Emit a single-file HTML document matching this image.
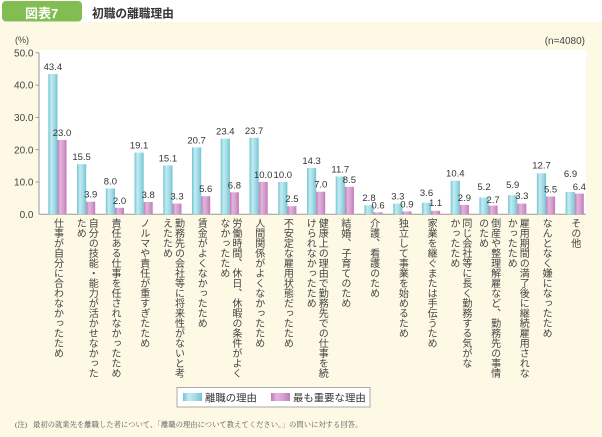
<!DOCTYPE html>
<html><head><meta charset="utf-8">
<style>
html,body{margin:0;padding:0;}
body{width:602px;height:437px;position:relative;overflow:hidden;background:#fff;font-family:"Liberation Sans","Noto Sans CJK JP",sans-serif;}
svg{position:absolute;left:0;top:0;}
.cl{position:absolute;top:218px;writing-mode:vertical-rl;font-size:10px;line-height:12px;color:#444;white-space:nowrap;font-family:"Liberation Sans","Noto Sans CJK JP",sans-serif;}
</style></head><body>
<svg width="602" height="437" viewBox="0 0 602 437" xmlns="http://www.w3.org/2000/svg">
<defs>
<linearGradient id="gb" x1="0" y1="0" x2="1" y2="0">
<stop offset="0" stop-color="#72c3d2"/><stop offset="0.3" stop-color="#c3ebf1"/><stop offset="0.65" stop-color="#a3dce6"/><stop offset="1" stop-color="#74c4d3"/>
</linearGradient>
<linearGradient id="gp" x1="0" y1="0" x2="1" y2="0">
<stop offset="0" stop-color="#bf78b6"/><stop offset="0.3" stop-color="#e3b5dd"/><stop offset="0.65" stop-color="#d49fcd"/><stop offset="1" stop-color="#c07ab8"/>
</linearGradient>
</defs>
<rect x="0" y="22" width="602" height="415" fill="#fdf9e4"/>
<rect x="39" y="50" width="547" height="164.3" fill="#ffffff"/>
<rect x="2" y="1" width="80" height="20.5" rx="4" fill="#82bd52"/>
<text x="25" y="18" font-size="13" font-weight="bold" fill="#fff" font-family="Liberation Sans,Noto Sans CJK JP,sans-serif">図表7</text>
<text x="92" y="17.5" font-size="11.7" font-weight="bold" fill="#333" font-family="Liberation Sans,Noto Sans CJK JP,sans-serif">初職の離職理由</text>
<text x="15" y="43" font-size="9" fill="#444" font-family="Liberation Sans,sans-serif">(%)</text>
<text x="585" y="44" font-size="10" fill="#444" text-anchor="end" font-family="Liberation Sans,sans-serif">(n=4080)</text>
<g font-size="10" fill="#444" text-anchor="end" font-family="Liberation Sans,sans-serif">
<text x="33.5" y="56.4">50.0</text>
<text x="33.5" y="88.7">40.0</text>
<text x="33.5" y="121">30.0</text>
<text x="33.5" y="153.3">20.0</text>
<text x="33.5" y="185.6">10.0</text>
<text x="33.5" y="217.9">0.0</text>
</g>
<g stroke="#999" stroke-width="1">
<line x1="39" y1="52.8" x2="39" y2="214.3"/>
<line x1="39" y1="214.3" x2="586" y2="214.3"/>
<line x1="35.5" y1="52.8" x2="39" y2="52.8"/>
<line x1="35.5" y1="85.1" x2="39" y2="85.1"/>
<line x1="35.5" y1="117.4" x2="39" y2="117.4"/>
<line x1="35.5" y1="149.7" x2="39" y2="149.7"/>
<line x1="35.5" y1="182" x2="39" y2="182"/>
</g>
<g fill="url(#gb)">
<rect x="48.3" y="74.1" width="9.2" height="140.2"/>
<rect x="77.0" y="164.2" width="9.2" height="50.1"/>
<rect x="105.8" y="188.5" width="9.2" height="25.8"/>
<rect x="134.5" y="152.6" width="9.2" height="61.7"/>
<rect x="163.3" y="165.5" width="9.2" height="48.8"/>
<rect x="192.0" y="147.4" width="9.2" height="66.9"/>
<rect x="220.7" y="138.7" width="9.2" height="75.6"/>
<rect x="249.5" y="137.8" width="9.2" height="76.5"/>
<rect x="278.2" y="182.0" width="9.2" height="32.3"/>
<rect x="307.0" y="168.1" width="9.2" height="46.2"/>
<rect x="335.7" y="176.5" width="9.2" height="37.8"/>
<rect x="364.4" y="205.3" width="9.2" height="9.0"/>
<rect x="393.2" y="203.6" width="9.2" height="10.7"/>
<rect x="421.9" y="202.7" width="9.2" height="11.6"/>
<rect x="450.7" y="180.7" width="9.2" height="33.6"/>
<rect x="479.4" y="197.5" width="9.2" height="16.8"/>
<rect x="508.1" y="195.2" width="9.2" height="19.1"/>
<rect x="536.9" y="173.3" width="9.2" height="41.0"/>
<rect x="565.6" y="192.0" width="9.2" height="22.3"/>
</g>
<g fill="url(#gp)">
<rect x="57.5" y="140.0" width="9" height="74.3"/>
<rect x="86.2" y="201.7" width="9" height="12.6"/>
<rect x="115.0" y="207.8" width="9" height="6.5"/>
<rect x="143.7" y="202.0" width="9" height="12.3"/>
<rect x="172.5" y="203.6" width="9" height="10.7"/>
<rect x="201.2" y="196.2" width="9" height="18.1"/>
<rect x="229.9" y="192.3" width="9" height="22.0"/>
<rect x="258.7" y="182.0" width="9" height="32.3"/>
<rect x="287.4" y="206.2" width="9" height="8.1"/>
<rect x="316.2" y="191.7" width="9" height="22.6"/>
<rect x="344.9" y="186.8" width="9" height="27.5"/>
<rect x="373.6" y="212.4" width="9" height="1.9"/>
<rect x="402.4" y="211.4" width="9" height="2.9"/>
<rect x="431.1" y="210.8" width="9" height="3.5"/>
<rect x="459.9" y="204.9" width="9" height="9.4"/>
<rect x="488.6" y="205.6" width="9" height="8.7"/>
<rect x="517.3" y="203.6" width="9" height="10.7"/>
<rect x="546.1" y="196.5" width="9" height="17.8"/>
<rect x="574.8" y="193.6" width="9" height="20.7"/>
</g>
<g font-size="9.5" fill="#333" text-anchor="middle" font-family="Liberation Sans,sans-serif">
<text x="52.9" y="70.1">43.4</text>
<text x="81.6" y="160.2">15.5</text>
<text x="110.4" y="184.5">8.0</text>
<text x="139.1" y="148.6">19.1</text>
<text x="167.9" y="161.5">15.1</text>
<text x="196.6" y="143.4">20.7</text>
<text x="225.3" y="134.7">23.4</text>
<text x="254.1" y="133.8">23.7</text>
<text x="282.8" y="178.0">10.0</text>
<text x="311.6" y="164.1">14.3</text>
<text x="340.3" y="172.5">11.7</text>
<text x="369.0" y="200.8">2.8</text>
<text x="397.8" y="199.6">3.3</text>
<text x="426.5" y="196.2">3.6</text>
<text x="455.3" y="176.7">10.4</text>
<text x="484.0" y="190.2">5.2</text>
<text x="512.7" y="188.2">5.9</text>
<text x="541.5" y="168.7">12.7</text>
<text x="570.5" y="177.2">6.9</text>
<text x="62.0" y="136.0">23.0</text>
<text x="90.7" y="197.7">3.9</text>
<text x="119.5" y="203.8">2.0</text>
<text x="148.2" y="198.0">3.8</text>
<text x="177.0" y="199.6">3.3</text>
<text x="205.7" y="192.2">5.6</text>
<text x="234.4" y="188.3">6.8</text>
<text x="263.2" y="178.0">10.0</text>
<text x="291.9" y="202.2">2.5</text>
<text x="320.7" y="187.7">7.0</text>
<text x="349.4" y="182.8">8.5</text>
<text x="378.1" y="208.4">0.6</text>
<text x="406.9" y="207.4">0.9</text>
<text x="435.6" y="206.2">1.1</text>
<text x="464.4" y="200.9">2.9</text>
<text x="493.1" y="202.8">2.7</text>
<text x="521.8" y="199.2">3.3</text>
<text x="550.6" y="192.5">5.5</text>
<text x="579.3" y="189.8">6.4</text>
</g>
<rect x="177" y="387.5" width="193" height="19.5" fill="#fff" stroke="#aaa" stroke-width="1"/>
<rect x="183" y="393" width="19" height="8" fill="url(#gb)"/>
<rect x="271" y="393" width="19" height="8" fill="url(#gp)"/>
<g font-size="10.4" fill="#333" font-family="Liberation Sans,Noto Sans CJK JP,sans-serif">
<text x="205" y="401.5">離職の理由</text>
<text x="293" y="401.5">最も重要な理由</text>
</g>
<g font-size="7.33" fill="#555" font-family="Liberation Serif,Noto Serif CJK SC,serif">
<text x="15" y="427">(注)</text>
<text x="33" y="427">最初の就業先を離職した者について、「離職の理由について教えてください。」の問いに対する回答。</text>
</g>
</svg>
<div class="cl" style="left:50.5px;width:12px;">仕事が自分に合わなかったため</div>
<div class="cl" style="left:73.2px;width:24px;">自分の技能・能力が活かせなかった<br>ため</div>
<div class="cl" style="left:108px;width:12px;">責任ある仕事を任されなかったため</div>
<div class="cl" style="left:136.7px;width:12px;">ノルマや責任が重すぎたため</div>
<div class="cl" style="left:159.5px;width:24px;">勤務先の会社等に将来性がないと考<br>えたため</div>
<div class="cl" style="left:194.2px;width:12px;">賃金がよくなかったため</div>
<div class="cl" style="left:216.9px;width:24px;">労働時間、休日、休暇の条件がよく<br>なかったため</div>
<div class="cl" style="left:251.7px;width:12px;">人間関係がよくなかったため</div>
<div class="cl" style="left:280.4px;width:12px;">不安定な雇用状態だったため</div>
<div class="cl" style="left:303.2px;width:24px;">健康上の理由で勤務先での仕事を続<br>けられなかったため</div>
<div class="cl" style="left:337.9px;width:12px;">結婚、子育てのため</div>
<div class="cl" style="left:366.6px;width:12px;">介護、看護のため</div>
<div class="cl" style="left:395.4px;width:12px;">独立して事業を始めるため</div>
<div class="cl" style="left:424.1px;width:12px;">家業を継ぐまたは手伝うため</div>
<div class="cl" style="left:446.9px;width:24px;">同じ会社等に長く勤務する気がな<br>かったため</div>
<div class="cl" style="left:475.6px;width:24px;">倒産や整理解雇など、勤務先の事情<br>のため</div>
<div class="cl" style="left:504.3px;width:24px;">雇用期間の満了後に継続雇用されな<br>かったため</div>
<div class="cl" style="left:539.1px;width:12px;">なんとなく嫌になったため</div>
<div class="cl" style="left:567.8px;width:12px;">その他</div>
</body></html>
